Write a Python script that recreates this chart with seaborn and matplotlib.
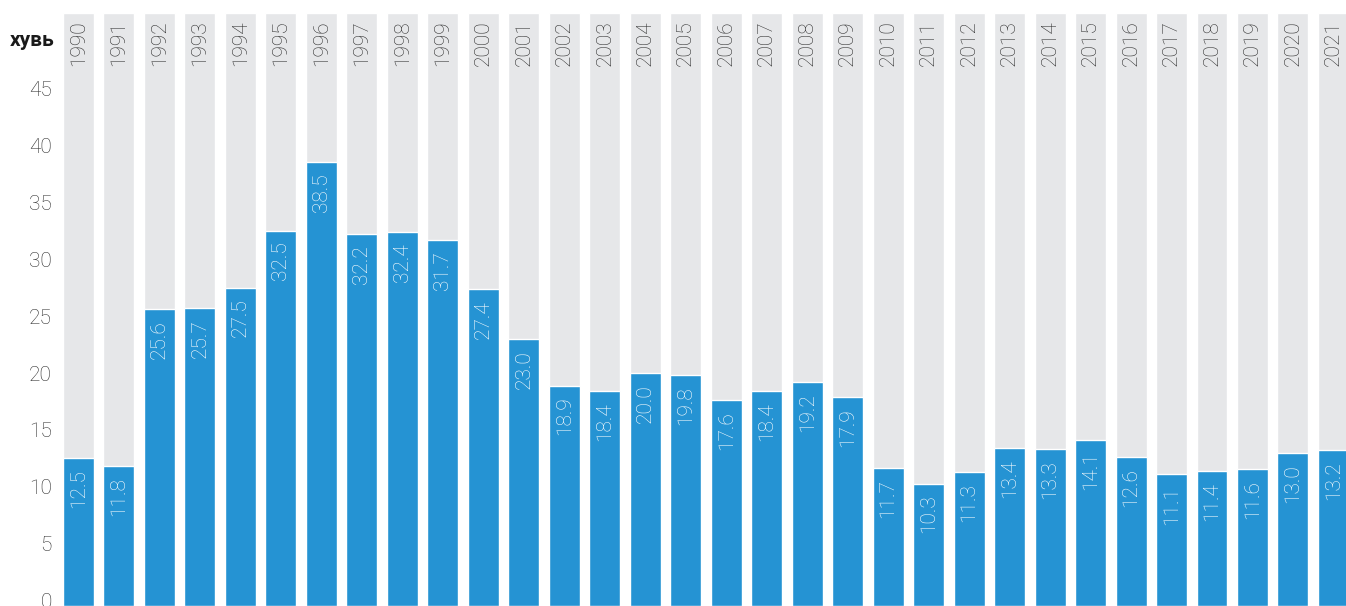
import matplotlib
matplotlib.use("Agg")
import matplotlib.pyplot as plt
import seaborn as sns
import pandas as pd

# Data
years = [str(y) for y in range(1990, 2022)]
values = [12.5, 11.8, 25.6, 25.7, 27.5, 32.5, 38.5, 32.2, 32.4, 31.7, 27.4, 23.0,
          18.9, 18.4, 20.0, 19.8, 17.6, 18.4, 19.2, 17.9, 11.7, 10.3, 11.3, 13.4,
          13.3, 14.1, 12.6, 11.1, 11.4, 11.6, 13.0, 13.2]
y_ticks = [0, 5, 10, 15, 20, 25, 30, 35, 40, 45]
unit_label = "хувь"

y_top = 51.6
y_bottom = -0.45
blue = "#2593d3"
gray = "#e6e7e9"

sns.set_theme(style="white")
plt.rcParams["font.family"] = ["Roboto", "DejaVu Sans"]

df = pd.DataFrame({"year": years, "value": values})
df["full"] = y_top - y_bottom

fig = plt.figure(figsize=(13.46, 6.06), dpi=100)
ax = fig.add_axes([63 / 1346, 0.0, 1 - 63 / 1346, (606 - 13) / 606])

bw = 0.765
# background bars
sns.barplot(data=df, x="year", y="full", color=gray, width=bw, saturation=1,
            bottom=y_bottom, ax=ax)
# value bars
sns.barplot(data=df, x="year", y=df["value"] - y_bottom, color=blue, width=bw,
            saturation=1, bottom=y_bottom, ax=ax)

for i, (yr, v) in enumerate(zip(years, values)):
    ax.annotate(yr, xy=(i, y_top), xytext=(0, -5), textcoords="offset points",
                rotation=90, ha="center", va="top", fontsize=15,
                color="#2e2e2e", fontweight="light")
    ax.annotate(f"{v:.1f}", xy=(i, v), xytext=(0, -8), textcoords="offset points",
                rotation=90, ha="center", va="top", fontsize=15,
                color="white", fontweight="light")

ax.set_xlim(-bw / 2, len(years) - 1 + 0.31)
ax.set_ylim(y_bottom, y_top)
ax.set_yticks(y_ticks)
ax.set_yticklabels([str(t) for t in y_ticks], fontsize=15, color="#2e2e2e",
                   fontweight="light")
ax.set_xticks([])
ax.set_xlabel("")
ax.set_ylabel("")
ax.tick_params(axis="y", length=0, pad=8)
for s in ax.spines.values():
    s.set_visible(False)

fig.text(10 / 1346, 1 - 40 / 606, unit_label, fontsize=15, fontweight="bold",
         color="#1a1a1a", va="center", ha="left")

fig.savefig("out.png", dpi=100)
